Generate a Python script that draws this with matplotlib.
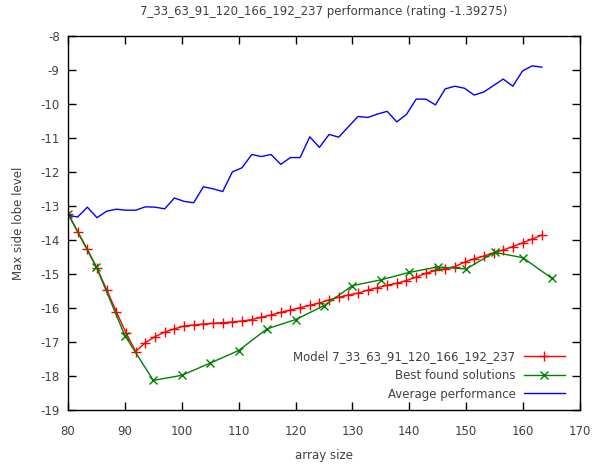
import matplotlib
matplotlib.use('Agg')
import matplotlib.pyplot as plt

# array sizes sampled by the model / average curves
sizes = [80, 81.7, 83.4, 85.1, 86.8, 88.5, 90.2, 91.9, 93.6, 95.3,
         97, 98.7, 100.4, 102.1, 103.8, 105.5, 107.2, 108.9, 110.6, 112.3,
         114, 115.7, 117.4, 119.1, 120.8, 122.5, 124.2, 125.9, 127.6, 129.3,
         131, 132.7, 134.4, 136.1, 137.8, 139.5, 141.2, 142.9, 144.6, 146.3,
         148, 149.7, 151.4, 153.1, 154.8, 156.5, 158.2, 159.9, 161.6, 163.3]

model = [-13.22, -13.75, -14.27, -14.83, -15.46, -16.11, -16.73, -17.28, -17.02, -16.84,
         -16.71, -16.61, -16.53, -16.50, -16.47, -16.45, -16.43, -16.41, -16.38, -16.34,
         -16.27, -16.20, -16.13, -16.06, -15.99, -15.92, -15.85, -15.76, -15.68, -15.62,
         -15.56, -15.47, -15.40, -15.33, -15.27, -15.19, -15.09, -14.98, -14.89, -14.84,
         -14.78, -14.65, -14.55, -14.47, -14.37, -14.29, -14.19, -14.08, -13.97, -13.85]

average = [-13.27, -13.32, -13.03, -13.34, -13.15, -13.09, -13.12, -13.12, -13.02, -13.03,
           -13.08, -12.76, -12.86, -12.90, -12.43, -12.49, -12.57, -11.99, -11.87, -11.48,
           -11.54, -11.48, -11.77, -11.57, -11.57, -10.96, -11.27, -10.89, -10.97, -10.66,
           -10.36, -10.39, -10.29, -10.21, -10.52, -10.30, -9.85, -9.85, -10.02, -9.55,
           -9.47, -9.53, -9.73, -9.64, -9.45, -9.26, -9.47, -9.02, -8.87, -8.91]

best_sizes = [80, 85, 90, 95, 100, 105, 110, 115, 120, 125, 130, 135, 140, 145, 150, 155, 160, 165]
best = [-13.22, -14.80, -16.81, -18.13, -17.98, -17.62, -17.25, -16.61, -16.34, -15.93,
        -15.34, -15.17, -14.95, -14.79, -14.85, -14.36, -14.52, -15.12]

txt = '#404040'
plt.rcParams['font.family'] = 'DejaVu Sans'
plt.rcParams['font.size'] = 8.5
plt.rcParams['axes.unicode_minus'] = False

fig = plt.figure(figsize=(6.07, 4.68), dpi=100)
ax = fig.add_axes([0.112, 0.124, 0.8435, 0.7985])

ax.plot(sizes, model, color='#ff0000', lw=1.0, marker='+', ms=6.5, mew=1.0,
        label='Model 7_33_63_91_120_166_192_237')
ax.plot(best_sizes, best, color='#008000', lw=1.0, marker='x', ms=6, mew=1.0,
        label='Best found solutions')
ax.plot(sizes, average, color='#0000ff', lw=1.0, label='Average performance')

ax.set_xlim(80, 170)
ax.set_ylim(-19, -8)
ax.set_xticks(range(80, 171, 10))
ax.set_yticks(range(-19, -7))

ax.tick_params(direction='in', length=6, width=1, top=True, right=True,
               colors='black', labelcolor=txt)
ax.tick_params(axis='x', pad=11)
ax.tick_params(axis='y', pad=6)
for s in ax.spines.values():
    s.set_linewidth(1.0)

ax.set_xlabel('array size', color=txt, labelpad=8)
ax.set_ylabel('Max side lobe level', color=txt, labelpad=11)
ax.set_title('7_33_63_91_120_166_192_237 performance (rating -1.39275)',
             color=txt, fontsize=8.5, pad=15)

leg = ax.legend(loc='lower right', bbox_to_anchor=(0.971, 0.025), frameon=False,
                markerfirst=False, handlelength=3.5, handletextpad=0.7,
                labelspacing=0.5, borderpad=0, borderaxespad=0)
for t in leg.get_texts():
    t.set_color(txt)

plt.savefig('out.png', dpi=100)
